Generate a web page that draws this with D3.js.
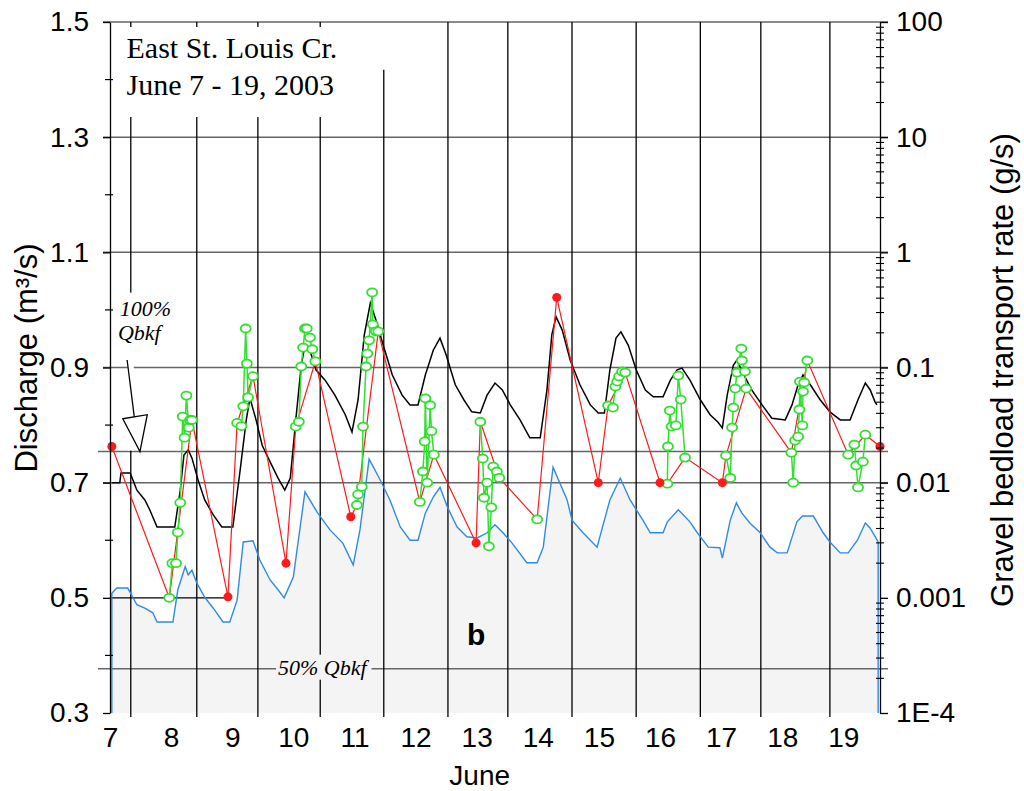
<!DOCTYPE html>
<html lang="en">
<head>
<meta charset="UTF-8">
<title>East St. Louis Cr. - discharge and gravel bedload, June 2003</title>
<script src="https://d3js.org/d3.v7.min.js"></script>
<style>
  body { margin: 0; background: #fff; }
  svg { display: block; font-family: "Liberation Sans", Arial, sans-serif; }
  .axis text { font-size: 28px; fill: #000; font-family: "Liberation Sans", Arial, sans-serif; }
  .serif { font-family: "Liberation Serif", "Times New Roman", serif; }
</style>
</head>
<body>
<svg id="chart" width="1024" height="791"></svg>
<script>
// ---- data ----
const dayLabels = d3.range(7, 20);
const leftTicks = [0.3, 0.5, 0.7, 0.9, 1.1, 1.3, 1.5];
const leftMinor = [0.4, 0.6, 0.8, 1.0, 1.2, 1.4];
const rightTicks = [1e-4, 1e-3, 1e-2, 1e-1, 1, 10, 100];
const rightLabels = ["1E-4", "0.001", "0.01", "0.1", "1", "10", "100"];
const gridQ = [1.5, 1.3, 1.1, 0.9, 0.7];
const gridDays = [7.34, 8.42, 9.42, 10.44, 11.48, 12.53, 13.51, 14.56, 15.61, 16.66, 17.65, 18.78];
const gridTopQ = [1.335, 1.335, 1.335, 1.335, 1.417, 1.5, 1.5, 1.5, 1.5, 1.5, 1.5, 1.5];
const bankfullQ = 0.754;

// discharge (m3/s), black line
const discharge = [[7.03,0.70],[7.16,0.70],[7.18,0.717],[7.33,0.717],[7.44,0.687],[7.57,0.670],[7.65,0.653],[7.77,0.623],
  [8.06,0.623],[8.15,0.687],[8.21,0.748],[8.28,0.757],[8.34,0.743],[8.44,0.705],[8.55,0.670],[8.69,0.644],[8.83,0.623],
  [9.01,0.623],[9.13,0.722],[9.23,0.809],[9.29,0.847],[9.39,0.809],[9.49,0.765],[9.62,0.736],[9.75,0.708],[9.86,0.687],[9.95,0.708],
  [10.04,0.809],[10.13,0.904],[10.19,0.939],[10.27,0.930],[10.37,0.896],[10.52,0.878],[10.68,0.852],[10.85,0.818],[10.96,0.788],
  [11.06,0.844],[11.16,0.956],[11.26,1.012],[11.35,0.983],[11.47,0.939],[11.62,0.887],[11.78,0.852],[11.91,0.835],
  [12.04,0.835],[12.16,0.887],[12.29,0.930],[12.40,0.951],[12.50,0.922],[12.65,0.870],[12.79,0.844],[12.92,0.823],
  [13.06,0.821],[13.17,0.852],[13.30,0.873],[13.42,0.861],[13.55,0.835],[13.71,0.809],[13.87,0.778],
  [14.04,0.778],[14.15,0.861],[14.23,0.957],[14.30,0.988],[14.40,0.965],[14.53,0.913],[14.69,0.870],[14.86,0.835],[14.99,0.821],
  [15.09,0.821],[15.18,0.896],[15.28,0.951],[15.36,0.962],[15.48,0.939],[15.61,0.896],[15.76,0.861],[15.89,0.849],
  [16.05,0.849],[16.17,0.878],[16.28,0.896],[16.36,0.899],[16.49,0.878],[16.66,0.844],[16.82,0.818],[16.95,0.805],
  [17.02,0.795],[17.10,0.852],[17.20,0.904],[17.26,0.913],[17.35,0.892],[17.50,0.861],[17.67,0.835],[17.83,0.812],
  [18.05,0.809],[18.16,0.835],[18.26,0.870],[18.34,0.887],[18.46,0.870],[18.62,0.844],[18.78,0.823],[18.95,0.809],
  [19.11,0.809],[19.24,0.844],[19.36,0.873],[19.44,0.861],[19.52,0.840],[19.55,0.835]];

// lower discharge trace (m3/s), blue line over grey fill
const lowerQ = [[7.03,0.30],[7.03,0.508],[7.11,0.517],[7.29,0.517],[7.44,0.488],[7.57,0.482],[7.70,0.474],[7.77,0.458],
  [8.03,0.458],[8.11,0.514],[8.23,0.554],[8.28,0.540],[8.34,0.548],[8.42,0.526],[8.55,0.501],[8.69,0.482],[8.85,0.458],
  [8.96,0.458],[9.08,0.496],[9.18,0.597],[9.34,0.599],[9.45,0.566],[9.62,0.531],[9.75,0.514],[9.85,0.500],
  [10.00,0.536],[10.19,0.684],[10.40,0.647],[10.60,0.618],[10.81,0.595],[10.98,0.557],
  [11.09,0.618],[11.24,0.741],[11.42,0.705],[11.58,0.670],[11.75,0.623],[11.91,0.600],
  [12.04,0.600],[12.16,0.647],[12.29,0.675],[12.40,0.692],[12.52,0.658],[12.68,0.623],[12.84,0.606],
  [13.01,0.604],[13.17,0.613],[13.30,0.627],[13.43,0.613],[13.58,0.595],[13.82,0.561],
  [13.99,0.561],[14.09,0.588],[14.25,0.727],[14.48,0.670],[14.56,0.635],[14.74,0.613],[14.97,0.588],
  [15.18,0.670],[15.35,0.708],[15.51,0.670],[15.72,0.635],[15.84,0.613],
  [16.05,0.613],[16.12,0.632],[16.30,0.653],[16.49,0.632],[16.61,0.613],[16.79,0.588],[16.98,0.587],
  [17.02,0.569],[17.15,0.635],[17.25,0.665],[17.34,0.647],[17.47,0.630],[17.64,0.613],[17.80,0.588],[17.92,0.578],
  [18.08,0.578],[18.24,0.632],[18.33,0.642],[18.51,0.642],[18.67,0.613],[18.78,0.597],[18.95,0.578],
  [19.08,0.578],[19.23,0.600],[19.36,0.630],[19.44,0.621],[19.57,0.597],[19.57,0.30]];

// gravel bedload samples (g/s), green, one array per sampling run
const sampleRuns = [
  [[7.97,0.0010],[8.02,0.0020],[8.08,0.0020],[8.11,0.0037],[8.15,0.0067],[8.19,0.0375],[8.22,0.0246],[8.25,0.057],[8.29,0.030],[8.31,0.035],[8.34,0.035]],
  [[9.08,0.033],[9.15,0.031],[9.18,0.046],[9.22,0.218],[9.24,0.108],[9.26,0.055],[9.34,0.084]],
  [[10.04,0.0307],[10.09,0.0338],[10.13,0.102],[10.16,0.149],[10.19,0.218],[10.22,0.218],[10.27,0.182],[10.31,0.144],[10.36,0.113]],
  [[11.04,0.0064],[11.06,0.0079],[11.12,0.0092],[11.14,0.0307],[11.19,0.102],[11.21,0.132],[11.24,0.172],[11.29,0.449],[11.30,0.237],[11.35,0.206],[11.39,0.206]],
  [[12.07,0.0068],[12.12,0.0125],[12.15,0.0228],[12.16,0.054],[12.19,0.010],[12.24,0.047],[12.26,0.028],[12.30,0.0175]],
  [[13.06,0.0338],[13.10,0.0162],[13.12,0.0074],[13.17,0.0100],[13.20,0.0028],[13.24,0.0061],[13.27,0.0138],[13.33,0.0125],[13.37,0.0110]],
  [[13.99,0.0048]],
  [[15.15,0.0468],[15.23,0.0449],[15.27,0.0684],[15.30,0.0755],[15.33,0.0836],[15.38,0.0923],[15.43,0.0903]],
  [[16.12,0.0098],[16.13,0.0206],[16.16,0.0423],[16.19,0.0307],[16.26,0.0314],[16.30,0.0851],[16.34,0.0527],[16.41,0.0165]],
  [[17.08,0.0172],[17.15,0.0110],[17.18,0.0301],[17.20,0.0449],[17.23,0.0656],[17.26,0.0903],[17.33,0.146],[17.34,0.115],[17.39,0.0923],[17.41,0.0656]],
  [[18.15,0.0182],[18.18,0.0100],[18.21,0.0232],[18.26,0.0251],[18.28,0.0432],[18.29,0.0755],[18.33,0.0314],[18.34,0.0618],[18.36,0.0741],[18.41,0.115]],
  [[19.08,0.0175],[19.18,0.0214],[19.21,0.0141],[19.24,0.0091],[19.32,0.0152],[19.36,0.0261]]
];

// red points (g/s)
const redPoints = [[7.03,0.0206],[8.93,0.00102],[9.88,0.0020],[10.94,0.00506],[12.99,0.0030],
  [14.31,0.406],[14.99,0.010],[16.0,0.010],[17.02,0.010],[19.6,0.0206]];

// ---- layout ----
const svg = d3.select("#chart");
const plot = { left: 110, right: 880, top: 22, bottom: 713 };
const x = d3.scaleLinear().domain([7, 19.6]).range([plot.left, plot.right]);
const yQ = d3.scaleLinear().domain([0.3, 1.5]).range([plot.bottom, plot.top]);
const yB = d3.scaleLog().domain([1e-4, 100]).range([plot.bottom, plot.top]);

const green = "#2fe02f";
const red = "#ff1a1a";
const blue = "#2f8ae8";

// grey fill under the lower trace
svg.append("path")
  .datum(lowerQ)
  .attr("d", d3.area().x(d => x(d[0])).y0(yQ(0.3)).y1(d => yQ(d[1])))
  .attr("fill", "#f4f4f4");

// horizontal grid
const hGrid = svg.append("g").attr("stroke", "#666").attr("stroke-width", 1.5);
hGrid.selectAll("line.q").data(gridQ).join("line")
  .attr("x1", plot.left - 7).attr("x2", plot.right + 8)
  .attr("y1", d => yQ(d)).attr("y2", d => yQ(d));
hGrid.selectAll("line.bk").data([bankfullQ, bankfullQ / 2]).join("line")
  .attr("x1", plot.left - 12).attr("x2", plot.right + 8)
  .attr("y1", d => yQ(d)).attr("y2", d => yQ(d));
// short line at 0.5 up to the second red point
svg.append("line")
  .attr("x1", x(7)).attr("x2", x(redPoints[1][0]))
  .attr("y1", yQ(0.5)).attr("y2", yQ(0.5))
  .attr("stroke", "#000").attr("stroke-width", 1.3);

// vertical grid
const vGrid = svg.append("g").attr("stroke", "#000").attr("stroke-width", 1.3);
vGrid.selectAll("line.v").data(gridDays).join("line")
  .attr("x1", d => x(d)).attr("x2", d => x(d))
  .attr("y1", (d, i) => yQ(gridTopQ[i])).attr("y2", plot.bottom + 4);
// tick stubs on the top frame above the label box
vGrid.selectAll("line.s").data(gridDays.slice(0, 4)).join("line")
  .attr("x1", d => x(d)).attr("x2", d => x(d))
  .attr("y1", plot.top).attr("y2", plot.top + 5);

// blue lower trace
svg.append("path")
  .datum(lowerQ)
  .attr("d", d3.line().x(d => x(d[0])).y(d => yQ(d[1])))
  .attr("fill", "none").attr("stroke", blue).attr("stroke-width", 1.4);

// black discharge
svg.append("path")
  .datum(discharge)
  .attr("d", d3.line().x(d => x(d[0])).y(d => yQ(d[1])))
  .attr("fill", "none").attr("stroke", "#000").attr("stroke-width", 1.5);

// red connecting line: red points + first/last sample of each run, in time order
const redPath = redPoints.slice();
sampleRuns.forEach(run => {
  redPath.push(run[0]);
  if (run.length > 1) redPath.push(run[run.length - 1]);
});
redPath.sort((a, b) => a[0] - b[0]);
svg.append("path")
  .datum(redPath)
  .attr("d", d3.line().x(d => x(d[0])).y(d => yB(d[1])))
  .attr("fill", "none").attr("stroke", red).attr("stroke-width", 1.2);

// green sample runs
const runLine = d3.line().x(d => x(d[0])).y(d => yB(d[1]));
svg.append("g").selectAll("path").data(sampleRuns).join("path")
  .attr("d", runLine)
  .attr("fill", "none").attr("stroke", green).attr("stroke-width", 1.5);
svg.append("g").selectAll("ellipse").data(sampleRuns.flat()).join("ellipse")
  .attr("cx", d => x(d[0])).attr("cy", d => yB(d[1]))
  .attr("rx", 5).attr("ry", 4)
  .attr("fill", "#fff").attr("stroke", green).attr("stroke-width", 1.8);

// red points
svg.append("g").selectAll("circle").data(redPoints).join("circle")
  .attr("cx", d => x(d[0])).attr("cy", d => yB(d[1]))
  .attr("r", 4.5).attr("fill", red);

// ---- axes ----
const leftAxis = svg.append("g").attr("class", "axis")
  .attr("transform", `translate(${plot.left},0)`)
  .call(d3.axisLeft(yQ).tickValues(leftTicks).tickFormat(d3.format(".1f"))
    .tickSize(7).tickSizeOuter(0).tickPadding(14));
leftAxis.select(".domain").attr("stroke", "#000").attr("stroke-width", 1.3);
leftAxis.selectAll(".tick line").attr("stroke-width", 1.3);
svg.append("g").selectAll("line").data(leftMinor).join("line")
  .attr("x1", plot.left - 5).attr("x2", plot.left + 3)
  .attr("y1", d => yQ(d)).attr("y2", d => yQ(d))
  .attr("stroke", "#000").attr("stroke-width", 1.2);

const rightAxis = svg.append("g").attr("class", "axis")
  .attr("transform", `translate(${plot.right},0)`)
  .call(d3.axisRight(yB).tickValues(rightTicks).tickFormat((d, i) => rightLabels[i])
    .tickSize(8).tickSizeOuter(0).tickPadding(8));
rightAxis.select(".domain").attr("stroke", "#000").attr("stroke-width", 1.3);
rightAxis.selectAll(".tick line").attr("stroke-width", 1.3);
const rightMinor = [];
rightTicks.slice(0, -1).forEach(t => { for (let k = 2; k <= 9; k++) rightMinor.push(t * k); });
svg.append("g").selectAll("line").data(rightMinor).join("line")
  .attr("x1", plot.right - 4).attr("x2", plot.right + 4)
  .attr("y1", d => yB(d)).attr("y2", d => yB(d))
  .attr("stroke", "#000").attr("stroke-width", 1.1);

const bottomAxis = svg.append("g").attr("class", "axis")
  .attr("transform", `translate(0,${plot.bottom})`)
  .call(d3.axisBottom(x).tickValues(dayLabels).tickFormat(d3.format("d"))
    .tickSize(0).tickPadding(14));
bottomAxis.select(".domain").remove();

// axis titles
svg.append("text")
  .attr("transform", `translate(37,358) rotate(-90)`)
  .attr("text-anchor", "middle").attr("font-size", 31)
  .text("Discharge (m³/s)");
svg.append("text")
  .attr("transform", `translate(1013,370) rotate(-90)`)
  .attr("text-anchor", "middle").attr("font-size", 31)
  .text("Gravel bedload transport rate (g/s)");
svg.append("text")
  .attr("x", x(13.05)).attr("y", 785)
  .attr("text-anchor", "middle").attr("font-size", 28)
  .text("June");

// ---- annotations ----
svg.append("text").attr("class", "serif")
  .attr("x", x(7.27)).attr("y", 58).attr("font-size", 30)
  .text("East St. Louis Cr.");
svg.append("text").attr("class", "serif")
  .attr("x", x(7.27)).attr("y", 95).attr("font-size", 30)
  .text("June 7 - 19, 2003");

// 100% Qbkf label with arrow down to the bankfull line
svg.append("rect")
  .attr("x", x(gridDays[0]) - 3).attr("y", yQ(1.03))
  .attr("width", 6).attr("height", yQ(bankfullQ) - yQ(1.03) - 1)
  .attr("fill", "#fff");
const lbl = svg.append("text").attr("class", "serif")
  .attr("font-style", "italic").attr("font-size", 22);
lbl.append("tspan").attr("x", x(7.16)).attr("y", yQ(0.99)).text("100%");
lbl.append("tspan").attr("x", x(7.13)).attr("y", yQ(0.947)).text("Qbkf");
svg.append("line")
  .attr("x1", x(7.28)).attr("y1", yQ(0.913))
  .attr("x2", x(7.40)).attr("y2", yQ(0.812))
  .attr("stroke", "#000").attr("stroke-width", 1.3);
svg.append("path")
  .attr("d", `M${x(7.21)},${yQ(0.811)}L${x(7.61)},${yQ(0.818)}L${x(7.49)},${yQ(bankfullQ)}Z`)
  .attr("fill", "#fff").attr("stroke", "#000").attr("stroke-width", 1.3);

// 50% Qbkf label sitting on its line
const half = svg.append("text").attr("class", "serif")
  .attr("font-style", "italic").attr("font-size", 22)
  .attr("x", x(9.75)).attr("y", yQ(bankfullQ / 2) + 6)
  .text("50% Qbkf");
const hb = half.node().getBBox();
svg.insert("rect", () => half.node())
  .attr("x", hb.x - 2).attr("y", hb.y).attr("width", hb.width + 4).attr("height", hb.height)
  .attr("fill", "#f4f4f4");

svg.append("text")
  .attr("x", x(12.84)).attr("y", 645)
  .attr("font-size", 30).attr("font-weight", "bold")
  .text("b");
</script>
</body>
</html>
